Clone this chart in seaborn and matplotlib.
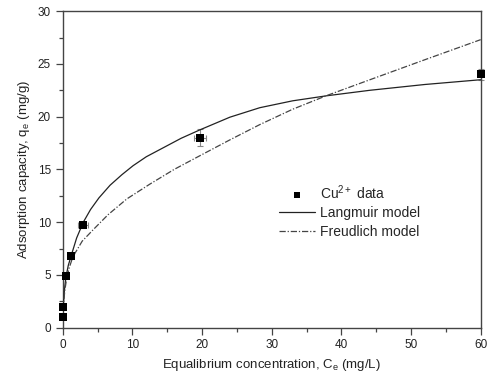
import numpy as np
import pandas as pd
import matplotlib
matplotlib.use("Agg")
import matplotlib.pyplot as plt
import seaborn as sns
from matplotlib.ticker import MultipleLocator

# measured Cu2+ points (Ce, qe) with error bars
ce_data = [0.0, 0.1, 0.43, 1.24, 2.95, 19.7, 60.0]
qe_data = [1.0, 2.0, 4.9, 6.8, 9.7, 18.0, 24.0]
ce_err = [0.0, 0.0, 0.0, 0.0, 0.7, 0.8, 0.0]
qe_err = [0.0, 0.0, 0.0, 0.0, 0.3, 0.8, 0.5]

# Langmuir model curve
lang_ce = [0.0, 0.1, 0.25, 0.47, 0.8, 1.3, 2.0, 2.96, 4.0, 5.2, 6.8, 8.5, 10.1, 12.0, 14.0, 17.0, 19.7,
           24.0, 28.3, 33.0, 37.9, 44.1, 52.0, 60.0]
lang_qe = [1.2, 2.2, 3.6, 4.8, 5.9, 7.0, 8.5, 10.0, 11.2, 12.3, 13.5, 14.5, 15.35, 16.2, 16.9, 17.95, 18.75,
           19.95, 20.85, 21.5, 21.98, 22.5, 23.05, 23.5]

# Freundlich model curve
freu_ce = [0.0, 0.05, 0.15, 0.3, 0.55, 0.9, 1.3, 1.76, 2.8, 4.4, 6.5, 9.2, 12.5, 16.0, 19.7, 24.0, 28.3,
           33.0, 37.9, 44.1, 52.0, 60.0]
freu_qe = [0.6, 1.4, 2.5, 3.5, 4.6, 5.6, 6.4, 7.05, 8.2, 9.3, 10.7, 12.2, 13.6, 15.0, 16.3, 17.8, 19.25,
           20.7, 22.0, 23.5, 25.4, 27.3]

sns.set_style("white")
plt.rcParams['font.family'] = ['Liberation Sans', 'DejaVu Sans']
plt.rcParams['mathtext.fontset'] = 'custom'
plt.rcParams['mathtext.rm'] = 'Liberation Sans'
plt.rcParams['mathtext.it'] = 'Liberation Sans'

fig = plt.figure(figsize=(4.88, 3.85), dpi=100)
ax = fig.add_axes([0.1285, 0.149, 0.8565, 0.822])

lang = pd.DataFrame({'Ce': lang_ce, 'qe': lang_qe})
freu = pd.DataFrame({'Ce': freu_ce, 'qe': freu_qe})
pts = pd.DataFrame({'Ce': ce_data, 'qe': qe_data})

eb = ax.errorbar(ce_data, qe_data, xerr=ce_err, yerr=qe_err, fmt='none',
                 ecolor='#888888', elinewidth=0.8, capsize=2.5, capthick=0.8, zorder=2)
for art in eb.lines[1] + eb.lines[2]:
    art.set_clip_on(False)
sns.scatterplot(data=pts, x='Ce', y='qe', marker='s', s=30, color='black',
                edgecolor='black', linewidth=0, ax=ax, zorder=4, label='Cu$^{2+}$ data',
                clip_on=False)
sns.lineplot(data=lang, x='Ce', y='qe', sort=False, color='#222222', linewidth=0.9,
             ax=ax, zorder=3, label='Langmuir model')
sns.lineplot(data=freu, x='Ce', y='qe', sort=False, color='#444444', linewidth=0.9,
             ax=ax, zorder=3, label='Freudlich model')
ax.lines[-1].set_dashes([5, 1.5, 1, 1.5])

ax.set_xlim(0, 60)
ax.set_ylim(0, 30)
ax.xaxis.set_major_locator(MultipleLocator(10))
ax.xaxis.set_minor_locator(MultipleLocator(5))
ax.yaxis.set_major_locator(MultipleLocator(5))
ax.yaxis.set_minor_locator(MultipleLocator(2.5))
ax.tick_params(which='major', direction='out', length=5, width=0.9, color='#444444',
               labelsize=8.5, labelcolor='#222222', bottom=True, left=True, top=False, right=False)
ax.tick_params(which='minor', direction='out', length=3, width=0.9, color='#444444',
               bottom=True, left=True, top=False, right=False)
for sp in ax.spines.values():
    sp.set_color('#444444')
    sp.set_linewidth(1.0)

ax.set_xlabel('Equalibrium concentration, C$_\\mathregular{e}$ (mg/L)', fontsize=9.5, color='#222222')
ax.set_ylabel('Adsorption capacity, q$_\\mathregular{e}$ (mg/g)', fontsize=9.5, color='#222222')

leg = ax.legend(loc='upper left', bbox_to_anchor=(0.5, 0.479), frameon=False, fontsize=10,
                handlelength=2.6, handletextpad=0.35, labelspacing=0.33, borderpad=0,
                markerscale=0.8)

fig.savefig('out.png', dpi=100)
